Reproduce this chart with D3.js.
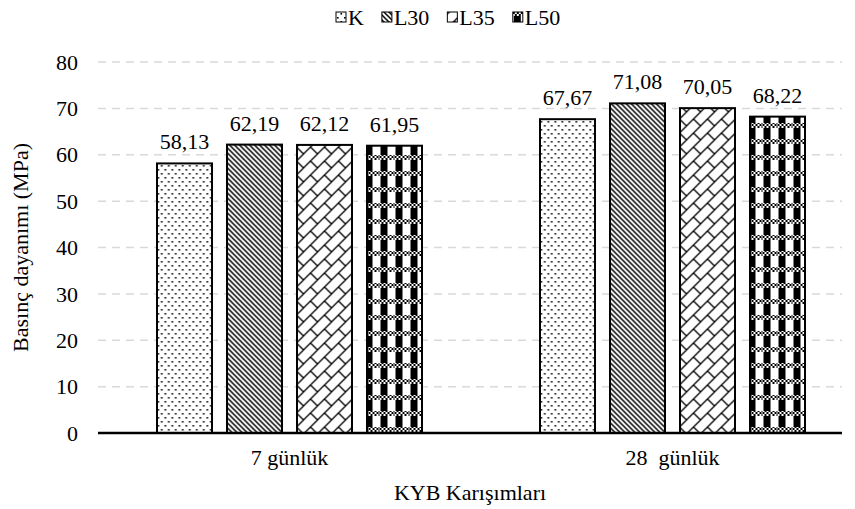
<!DOCTYPE html>
<html>
<head>
<meta charset="utf-8">
<script src="https://cdn.jsdelivr.net/npm/d3@7"></script>
<style>
  body { margin: 0; background: #fff; }
  text { font-family: "Liberation Serif", "Times New Roman", serif; }
</style>
</head>
<body>
<div id="chart"></div>
<script>
const categories = ["7 günlük", "28  günlük"];
const series = ["K", "L30", "L35", "L50"];
const values7 = [58.13, 62.19, 62.12, 61.95];
const values28 = [67.67, 71.08, 70.05, 68.22];
const yTicks = [0, 10, 20, 30, 40, 50, 60, 70, 80];

const width = 855, height = 509;
const margin = { top: 62, right: 13, bottom: 76, left: 98 };
const plotRight = 842;

const data = categories.map((c, i) => ({
    cat: c,
    vals: series.map((s, j) => ({ s, v: [values7, values28][i][j] }))
}));

const fmt = d3.formatLocale({ decimal: ",", thousands: ".", grouping: [3], currency: ["", ""] }).format(".2f");

const svg = d3.select("#chart")
    .append("svg")
    .attr("width", width)
    .attr("height", height);

// patterns
const defs = svg.append("defs");

let p = defs.append("pattern").attr("id", "pat-K")
    .attr("patternUnits", "userSpaceOnUse").attr("width", 7).attr("height", 8);
p.append("rect").attr("width", 7).attr("height", 8).attr("fill", "#fff");
p.append("rect").attr("x", 1).attr("y", 1).attr("width", 1.6).attr("height", 1.6).attr("fill", "#000");
p.append("rect").attr("x", 4.5).attr("y", 5).attr("width", 1.6).attr("height", 1.6).attr("fill", "#000");

p = defs.append("pattern").attr("id", "pat-L30")
    .attr("patternUnits", "userSpaceOnUse").attr("width", 5).attr("height", 5);
p.append("rect").attr("width", 5).attr("height", 5).attr("fill", "#fff");
p.append("path").attr("d", "M-1,-1L6,6M-1,4L1,6M4,-1L6,1")
    .attr("stroke", "#000").attr("stroke-width", 1.5);

p = defs.append("pattern").attr("id", "pat-L35")
    .attr("patternUnits", "userSpaceOnUse").attr("width", 14).attr("height", 14);
p.append("rect").attr("width", 14).attr("height", 14).attr("fill", "#fff");
p.append("path").attr("d", "M-1,15L15,-1M-3,3L3,-3M11,17L17,11M7,7L14,14")
    .attr("stroke", "#000").attr("stroke-width", 1.3);

let chk = defs.append("pattern").attr("id", "pat-chk")
    .attr("patternUnits", "userSpaceOnUse").attr("width", 4).attr("height", 4);
chk.append("rect").attr("width", 4).attr("height", 4).attr("fill", "#fff");
chk.append("rect").attr("width", 2).attr("height", 2).attr("fill", "#000");
chk.append("rect").attr("x", 2).attr("y", 2).attr("width", 2).attr("height", 2).attr("fill", "#000");

p = defs.append("pattern").attr("id", "pat-L50")
    .attr("patternUnits", "userSpaceOnUse").attr("width", 15).attr("height", 16);
p.append("rect").attr("width", 15).attr("height", 16).attr("fill", "#fff");
p.append("rect").attr("x", 1).attr("width", 7).attr("height", 11).attr("fill", "#000");
p.append("rect").attr("y", 11).attr("width", 15).attr("height", 5).attr("fill", "url(#pat-chk)");

// scales
const y = d3.scaleLinear()
    .domain([0, 80])
    .range([height - margin.bottom, margin.top]);

const x0 = d3.scaleBand()
    .domain(categories)
    .range([margin.left, 864]);

const x1 = d3.scaleBand()
    .domain(series)
    .range([-140, 140])
    .paddingInner(15 / 70)
    .paddingOuter(7.5 / 70);

// grid
svg.append("g")
    .selectAll("line")
    .data(yTicks.filter(d => d > 0))
    .join("line")
    .attr("x1", margin.left)
    .attr("x2", plotRight)
    .attr("y1", d => y(d))
    .attr("y2", d => y(d))
    .attr("stroke", "#d9d9d9")
    .attr("stroke-width", 1.5)
    .attr("stroke-dasharray", "8,6");

// y tick labels
svg.append("g")
    .attr("font-size", 22)
    .attr("text-anchor", "end")
    .selectAll("text")
    .data(yTicks)
    .join("text")
    .attr("x", margin.left - 20)
    .attr("y", d => y(d))
    .attr("dy", "0.35em")
    .text(d => d);

// bars
const groups = svg.append("g")
    .selectAll("g")
    .data(data)
    .join("g")
    .attr("transform", d => `translate(${x0(d.cat) + x0.bandwidth() / 2},0)`);

groups.selectAll("rect")
    .data(d => d.vals)
    .join("rect")
    .attr("x", d => x1(d.s))
    .attr("y", d => y(d.v))
    .attr("width", x1.bandwidth())
    .attr("height", d => y(0) - y(d.v))
    .attr("fill", d => `url(#pat-${d.s})`)
    .attr("stroke", "#000")
    .attr("stroke-width", 2);

groups.selectAll("text")
    .data(d => d.vals)
    .join("text")
    .attr("x", d => x1(d.s) + x1.bandwidth() / 2)
    .attr("y", d => y(d.v) - 14)
    .attr("text-anchor", "middle")
    .attr("font-size", 22)
    .text(d => fmt(d.v));

// x axis line
svg.append("line")
    .attr("x1", margin.left)
    .attr("x2", plotRight)
    .attr("y1", y(0))
    .attr("y2", y(0))
    .attr("stroke", "#000")
    .attr("stroke-width", 2.5);

// category labels
svg.append("g")
    .attr("font-size", 22)
    .attr("text-anchor", "middle")
    .selectAll("text")
    .data(categories)
    .join("text")
    .attr("x", d => x0(d) + x0.bandwidth() / 2)
    .attr("y", y(0) + 32)
    .style("white-space", "pre")
    .text(d => d);

// axis titles
svg.append("text")
    .attr("x", 470)
    .attr("y", 500)
    .attr("text-anchor", "middle")
    .attr("font-size", 22)
    .text("KYB Karışımları");

svg.append("text")
    .attr("transform", `translate(28,${(y(0) + y(80)) / 2}) rotate(-90)`)
    .attr("text-anchor", "middle")
    .attr("font-size", 22)
    .text("Basınç dayanımı (MPa)");

// legend
const legend = svg.append("g")
    .attr("font-size", 22);
let lx = 336;
series.forEach(s => {
    const g = legend.append("g").attr("transform", `translate(${lx},0)`);
    g.append("rect")
        .attr("x", 0).attr("y", 12)
        .attr("width", 10).attr("height", 10)
        .attr("fill", `url(#pat-${s})`)
        .attr("stroke", "#000")
        .attr("stroke-width", 1);
    const t = g.append("text")
        .attr("x", 12)
        .attr("y", 25)
        .text(s);
    lx += 12 + t.node().getComputedTextLength() + 18;
});
</script>
</body>
</html>
